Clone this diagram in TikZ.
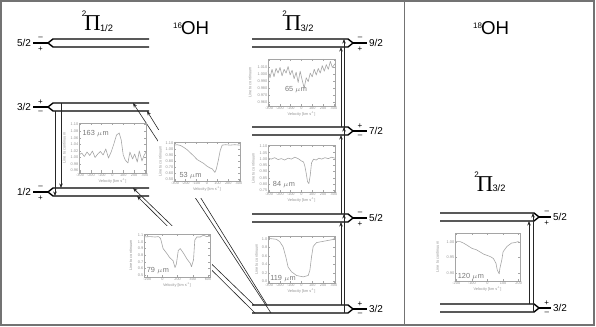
\documentclass[tikz,border=0pt]{standalone}
\usepackage{fontspec}
\setmainfont{Liberation Sans}
\newfontfamily\pifont{Liberation Serif}
\usetikzlibrary{arrows.meta,positioning}
\definecolor{frameGray}{RGB}{115,115,115}
\definecolor{plotGray}{RGB}{165,165,165}
\definecolor{labGray}{RGB}{120,120,120}

\begin{document}
\begin{tikzpicture}[x=0.75pt,y=-0.75pt,>={Stealth[length=3.4pt,width=2.6pt]},
    lev/.style={line width=1.05pt,black},
    ar/.style={->,line width=0.45pt,black!85},
    jlab/.style={font=\fontsize{7.5}{7.5}\selectfont,inner sep=1pt},
    sgn/.style={font=\fontsize{6}{6}\selectfont,inner sep=0pt},
    ttl/.style={font=\pifont\fontsize{17}{17}\selectfont,inner sep=0pt},
    ttlsup/.style={font=\fontsize{6}{6}\selectfont,inner sep=0pt},
    ttlsub/.style={font=\fontsize{7}{7}\selectfont,inner sep=0pt},
    mol/.style={font=\fontsize{14}{14}\selectfont,inner sep=0pt},
    fr/.style={draw=plotGray,line width=0.35pt},
    spec/.style={plotGray,line width=0.45pt,line join=round},
    tk/.style={font=\fontsize{2.9}{2.9}\selectfont,text=labGray!80,inner sep=0.4pt},
    lam/.style={font=\fontsize{5.5}{5.5}\selectfont,text=labGray,inner sep=0pt},
    bgbox/.style={fill=white,draw=none}]
  \useasboundingbox (0,0) rectangle (596,327);
  \draw[frameGray,line width=1.4pt] (1,1) rectangle (594,325);
  \draw[frameGray,line width=1.4pt] (404.5,1) -- (404.5,325);

  % titles
  \node[ttl] (pia) at (92.5,23.5) {Π};
  \node[ttlsup] (piaup) at (84,14) {2};
  \node[ttlsub] (pialo) at (106.5,28) {1/2};
  \node[ttl] (pib) at (293,23.5) {Π};
  \node[ttlsup] (pibup) at (284.5,14) {2};
  \node[ttlsub] (piblo) at (307,28) {3/2};
  \node[ttl] (pic) at (485,184) {Π};
  \node[ttlsup] (picup) at (476.5,174.5) {2};
  \node[ttlsub] (piclo) at (499,188.5) {3/2};
  \node[mol] (oh16) at (195,28.5) {OH};
  \node[ttlsup,anchor=south east] (oh16up) at (oh16.north west) [yshift=-5.5pt,xshift=1.2pt] {16};
  \node[mol] (oh18) at (495,28.5) {OH};
  \node[ttlsup,anchor=south east] (oh18up) at (oh18.north west) [yshift=-5.5pt,xshift=1.2pt] {18};

  % 2Pi1/2 ladder
  \coordinate (a52v) at (48,43);
  \draw[lev] (a52v) -- ++(5,-4) coordinate (a52t) -- ++(96,0);
  \draw[lev] (a52v) -- ++(5,4) coordinate (a52b) -- ++(96,0);
  \draw[lev] (a52v) -- ++(-15,0) node[sgn,midway,above=2.4pt] (sa52t) {\textendash}
    node[sgn,midway,below=2.2pt] (sa52b) {+} node[jlab,left] (ja52) {5/2};
  \coordinate (a32v) at (48,107);
  \draw[lev] (a32v) -- ++(5,-4) coordinate (a32t) -- ++(96,0);
  \draw[lev] (a32v) -- ++(5,4) coordinate (a32b) -- ++(96,0);
  \draw[lev] (a32v) -- ++(-15,0) node[sgn,midway,above=1.6pt] (sa32t) {+}
    node[sgn,midway,below=3pt] (sa32b) {\textendash} node[jlab,left] (ja32) {3/2};
  \coordinate (a12v) at (48,192);
  \draw[lev] (a12v) -- ++(5,-4) coordinate (a12t) -- ++(96,0);
  \draw[lev] (a12v) -- ++(5,4) coordinate (a12b) -- ++(96,0);
  \draw[lev] (a12v) -- ++(-15,0) node[sgn,midway,above=2.4pt] (sa12t) {\textendash}
    node[sgn,midway,below=2.2pt] (sa12b) {+} node[jlab,left] (ja12) {1/2};

  % 2Pi3/2 ladder, 16OH
  \coordinate (c92v) at (353,43);
  \draw[lev] (c92v) -- ++(-5,-4) coordinate (c92t) -- ++(-96,0);
  \draw[lev] (c92v) -- ++(-5,4) coordinate (c92b) -- ++(-96,0);
  \draw[lev] (c92v) -- ++(14,0) node[sgn,midway,above=2.4pt] (sc92t) {\textendash}
    node[sgn,midway,below=2.2pt] (sc92b) {+} node[jlab,right] (jc92) {9/2};
  \coordinate (c72v) at (353,131);
  \draw[lev] (c72v) -- ++(-5,-4) coordinate (c72t) -- ++(-96,0);
  \draw[lev] (c72v) -- ++(-5,4) coordinate (c72b) -- ++(-96,0);
  \draw[lev] (c72v) -- ++(14,0) node[sgn,midway,above=1.6pt] (sc72t) {+}
    node[sgn,midway,below=3pt] (sc72b) {\textendash} node[jlab,right] (jc72) {7/2};
  \coordinate (c52v) at (353,218);
  \draw[lev] (c52v) -- ++(-5,-4) coordinate (c52t) -- ++(-96,0);
  \draw[lev] (c52v) -- ++(-5,4) coordinate (c52b) -- ++(-96,0);
  \draw[lev] (c52v) -- ++(14,0) node[sgn,midway,above=2.4pt] (sc52t) {\textendash}
    node[sgn,midway,below=2.2pt] (sc52b) {+} node[jlab,right] (jc52) {5/2};
  \coordinate (c32v) at (353,309);
  \draw[lev] (c32v) -- ++(-5,-4) coordinate (c32t) -- ++(-96,0);
  \draw[lev] (c32v) -- ++(-5,4) coordinate (c32b) -- ++(-96,0);
  \draw[lev] (c32v) -- ++(14,0) node[sgn,midway,above=1.6pt] (sc32t) {+}
    node[sgn,midway,below=3pt] (sc32b) {\textendash} node[jlab,right] (jc32) {3/2};

  % 2Pi3/2 ladder, 18OH
  \coordinate (e52v) at (539,217);
  \draw[lev] (e52v) -- ++(-5,-4) coordinate (e52t) -- ++(-94,0);
  \draw[lev] (e52v) -- ++(-5,4) coordinate (e52b) -- ++(-94,0);
  \draw[lev] (e52v) -- ++(12,0) node[sgn,pos=.65,above=2.4pt] (se52t) {\textendash}
    node[sgn,pos=.65,below=2.2pt] (se52b) {+} node[jlab,right] (je52) {5/2};
  \coordinate (e32v) at (539,308);
  \draw[lev] (e32v) -- ++(-5,-4) coordinate (e32t) -- ++(-94,0);
  \draw[lev] (e32v) -- ++(-5,4) coordinate (e32b) -- ++(-94,0);
  \draw[lev] (e32v) -- ++(12,0) node[sgn,pos=.65,above=1.6pt] (se32t) {+}
    node[sgn,pos=.65,below=3pt] (se32b) {\textendash} node[jlab,right] (je32) {3/2};

  % transitions inside the ladders
  \coordinate (xa) at (55,0);  \coordinate (xb) at (61,0);
  \coordinate (xc) at (341,0); \coordinate (xd) at (344,0);
  \coordinate (xe) at (529,0); \coordinate (xf) at (533,0);
  \draw[ar] (xb |- a32t) -- (xb |- a12t);
  \draw[ar] (xa |- a32b) -- (xa |- a12b);
  \draw[ar] (xd |- c32b) -- (xd |- c52t); \draw[ar] (xc |- c32t) -- (xc |- c52b);
  \draw[ar] (xd |- c52b) -- (xd |- c72t); \draw[ar] (xc |- c52t) -- (xc |- c72b);
  \draw[ar] (xd |- c72b) -- (xd |- c92t); \draw[ar] (xc |- c72t) -- (xc |- c92b);
  \draw[ar] (xf |- e32b) -- (xf |- e52t); \draw[ar] (xe |- e32t) -- (xe |- e52b);

  % cross-ladder transitions (53 and 79 micron)
  \coordinate (ta) at (133,0); \coordinate (tb) at (147,0); \coordinate (td) at (137,0);
  \coordinate (sa) at (271,0); \coordinate (sb) at (267,0);
  \coordinate (sc) at (254,0); \coordinate (sd) at (255,0);
  \draw[ar] (sa |- c32b) -- (ta |- a32t);
  \draw[ar] (sb |- c32t) -- (tb |- a32b);
  \draw[ar] (sc |- c32t) -- (ta |- a12t);
  \draw[ar] (sd |- c32b) -- (td |- a12b);

  % spectra
  \fill[bgbox] (158,130) rectangle (245,198);
  \fill[bgbox] (126,226) rectangle (212,290);

  % 163 micron
  \begin{scope}[shift={(79,173)},x=50.25pt,y=37.5pt]
    \draw[fr] (0,0) rectangle (1,1);
    \draw[spec] plot coordinates {(0,.36) (.04,.40) (.08,.33) (.12,.42) (.16,.35) (.20,.44)
      (.24,.31) (.28,.38) (.32,.43) (.36,.36) (.40,.48) (.44,.30) (.48,.42) (.52,.58)
      (.56,.76) (.60,.80) (.63,.66) (.66,.36) (.69,.26) (.73,.20) (.76,.42) (.80,.28)
      (.83,.38) (.87,.22) (.90,.44) (.94,.24) (.97,.35) (1,.42)};
    \foreach \f/\t [count=\k] in {.967/1.10,.836/1.08,.704/1.06,.573/1.04,.441/1.02,.310/1.00,.178/0.98,.047/0.96}
      {\draw[fr] (0,\f) -- (.03,\f) (1,\f) -- (.97,\f); \node[tk,anchor=east] (p1y\k) at (0,\f) {\t};}
    \foreach \u/\t [count=\k] in {.016/-300,.177/-200,.339/-100,.5/0,.661/100,.823/200,.984/300}
      {\draw[fr] (\u,0) -- (\u,.05) (\u,1) -- (\u,.95); \node[tk,anchor=north] (p1x\k) at (\u,0) {\t};}
    \node[tk,anchor=north] (p1v) at (.5,0) [yshift=-3.3pt] {Velocity [km s\textsuperscript{-1}]};
    \node[tk,rotate=90] (p1c) at (-.22,.5) {Line to continuum};
    \node[lam,anchor=west] (p1l) at (.05,.78) {163 $\mu$m};
  \end{scope}

  % 53 micron
  \begin{scope}[shift={(174,181)},x=49.5pt,y=29.25pt]
    \draw[fr] (0,0) rectangle (1,1);
    \draw[spec] plot coordinates {(0,.92) (.05,.93) (.10,.91) (.15,.86) (.20,.80) (.25,.72)
      (.30,.64) (.35,.55) (.40,.50) (.45,.45) (.50,.38) (.55,.33) (.58,.31) (.62,.22)
      (.64,.30) (.67,.52) (.70,.78) (.73,.92) (.78,.93) (.85,.92) (.92,.93) (1,.92)};
    \foreach \f/\t [count=\k] in {.97/1.10,.815/1.00,.66/0.90,.505/0.80,.35/0.70,.195/0.60,.04/0.50}
      {\draw[fr] (0,\f) -- (.03,\f) (1,\f) -- (.97,\f); \node[tk,anchor=east] (p2y\k) at (0,\f) {\t};}
    \foreach \u/\t [count=\k] in {.016/-300,.177/-200,.339/-100,.5/0,.661/100,.823/200,.984/300}
      {\draw[fr] (\u,0) -- (\u,.06) (\u,1) -- (\u,.94); \node[tk,anchor=north] (p2x\k) at (\u,0) {\t};}
    \node[tk,anchor=north] (p2v) at (.5,0) [yshift=-3.3pt] {Velocity [km s\textsuperscript{-1}]};
    \node[tk,rotate=90] (p2c) at (-.21,.5) {Line to continuum};
    \node[lam,anchor=west] (p2l) at (.08,.14) {53 $\mu$m};
  \end{scope}

  % 79 micron
  \begin{scope}[shift={(144,277)},x=49.5pt,y=32.25pt]
    \draw[fr] (0,0) rectangle (1,1);
    \draw[spec] plot coordinates {(0,.93) (.09,.94) (.17,.93) (.22,.94) (.25,.90) (.29,.66)
      (.34,.56) (.39,.45) (.44,.38) (.47,.22) (.49,.30) (.52,.62) (.55,.66) (.60,.55)
      (.65,.42) (.70,.32) (.72,.24) (.75,.40) (.77,.86) (.80,.93) (.85,.93) (.90,.97)
      (.95,.94) (1,.95)};
    \foreach \f/\t [count=\k] in {.97/1.1,.815/1.0,.66/0.9,.505/0.8,.35/0.7,.195/0.6,.04/0.5}
      {\draw[fr] (0,\f) -- (.03,\f) (1,\f) -- (.97,\f); \node[tk,anchor=east] (p3y\k) at (0,\f) {\t};}
    \foreach \u/\t [count=\k] in {.05/-200,.28/0,.51/200,.74/400,.97/600}
      {\draw[fr] (\u,0) -- (\u,.05) (\u,1) -- (\u,.95); \node[tk,anchor=north] (p3x\k) at (\u,0) {\t};}
    \node[tk,anchor=north] (p3v) at (.5,0) [yshift=-3.3pt] {Velocity [km s\textsuperscript{-1}]};
    \node[tk,rotate=90] (p3c) at (-.2,.5) {Line to continuum};
    \node[lam,anchor=west] (p3l) at (.04,.16) {79 $\mu$m};
  \end{scope}

  % 65 micron
  \begin{scope}[shift={(268,106)},x=50.25pt,y=35.25pt]
    \draw[fr] (0,0) rectangle (1,1);
    \draw[spec] plot coordinates {(0,.75) (.03,.60) (.06,.78) (.09,.62) (.12,.80) (.15,.70)
      (.18,.82) (.21,.64) (.24,.78) (.27,.70) (.30,.84) (.33,.66) (.36,.76) (.39,.58)
      (.42,.72) (.45,.50) (.48,.74) (.51,.55) (.54,.38) (.57,.60) (.60,.52) (.63,.70)
      (.66,.62) (.69,.78) (.72,.66) (.75,.80) (.78,.70) (.81,.86) (.84,.74) (.87,.88)
      (.90,.78) (.93,.95) (.96,.82) (1,.90)};
    \foreach \f/\t [count=\k] in {.83/1.010,.68/1.000,.53/0.990,.38/0.980,.235/0.970,.085/0.960}
      {\draw[fr] (0,\f) -- (.03,\f) (1,\f) -- (.97,\f); \node[tk,anchor=east] (p4y\k) at (0,\f) {\t};}
    \foreach \u/\t [count=\k] in {.016/-300,.177/-200,.339/-100,.5/0,.661/100,.823/200,.984/300}
      {\draw[fr] (\u,0) -- (\u,.05) (\u,1) -- (\u,.95); \node[tk,anchor=north] (p4x\k) at (\u,0) {\t};}
    \node[tk,anchor=north] (p4v) at (.5,0) [yshift=-3.3pt] {Velocity [km s\textsuperscript{-1}]};
    \node[tk,rotate=90] (p4c) at (-.27,.5) {Line to continuum};
    \node[lam,anchor=west] (p4l) at (.25,.34) {65 $\mu$m};
  \end{scope}

  % 84 micron
  \begin{scope}[shift={(268,192)},x=50.25pt,y=35.25pt]
    \draw[fr] (0,0) rectangle (1,1);
    \draw[spec] plot coordinates {(0,.72) (.05,.70) (.10,.73) (.15,.69) (.20,.71) (.25,.68)
      (.30,.72) (.35,.70) (.40,.74) (.45,.71) (.50,.66) (.53,.64) (.55,.55) (.57,.40)
      (.59,.22) (.61,.18) (.63,.35) (.65,.62) (.68,.70) (.72,.68) (.76,.72) (.80,.70)
      (.85,.73) (.90,.71) (.95,.74) (1,.72)};
    \foreach \f/\t [count=\k] in {.97/1.10,.836/1.05,.702/1.00,.568/0.95,.434/0.90,.30/0.85,.166/0.80,.032/0.75}
      {\draw[fr] (0,\f) -- (.03,\f) (1,\f) -- (.97,\f); \node[tk,anchor=east] (p5y\k) at (0,\f) {\t};}
    \foreach \u/\t [count=\k] in {.016/-300,.177/-200,.339/-100,.5/0,.661/100,.823/200,.984/300}
      {\draw[fr] (\u,0) -- (\u,.05) (\u,1) -- (\u,.95); \node[tk,anchor=north] (p5x\k) at (\u,0) {\t};}
    \node[tk,anchor=north] (p5v) at (.5,0) [yshift=-3.3pt] {Velocity [km s\textsuperscript{-1}]};
    \node[tk,rotate=90] (p5c) at (-.22,.5) {Line to continuum};
    \node[lam,anchor=west] (p5l) at (.07,.16) {84 $\mu$m};
  \end{scope}

  % 119 micron
  \begin{scope}[shift={(268,283)},x=50.25pt,y=35.25pt]
    \draw[fr] (0,0) rectangle (1,1);
    \draw[spec] plot coordinates {(0,.95) (.125,.93) (.175,.88) (.225,.77) (.265,.56) (.30,.34)
      (.35,.24) (.425,.16) (.525,.13) (.60,.16) (.625,.27) (.65,.56) (.675,.78) (.725,.86)
      (.80,.88) (.875,.90) (.95,.92) (1,.95)};
    \foreach \f/\t [count=\k] in {.93/1.0,.752/0.8,.574/0.6,.396/0.4,.218/0.2,.04/0.0}
      {\draw[fr] (0,\f) -- (.03,\f) (1,\f) -- (.97,\f); \node[tk,anchor=east] (p6y\k) at (0,\f) {\t};}
    \foreach \u/\t [count=\k] in {.016/-300,.177/-200,.339/-100,.5/0,.661/100,.823/200,.984/300}
      {\draw[fr] (\u,0) -- (\u,.05) (\u,1) -- (\u,.95); \node[tk,anchor=north] (p6x\k) at (\u,0) {\t};}
    \node[tk,anchor=north] (p6v) at (.5,0) [yshift=-3.3pt] {Velocity [km s\textsuperscript{-1}]};
    \node[tk,rotate=90] (p6c) at (-.17,.5) {Line to continuum};
    \node[lam,anchor=west] (p6l) at (.03,.1) {119 $\mu$m};
  \end{scope}

  % 120 micron, 18OH
  \begin{scope}[shift={(455,281)},x=48.75pt,y=36pt]
    \draw[fr] (0,0) rectangle (1,1);
    \draw[spec] plot coordinates {(0,.82) (.08,.82) (.13,.79) (.18,.75) (.26,.68) (.33,.65)
      (.44,.56) (.54,.51) (.59,.47) (.63,.37) (.65,.23) (.68,.15) (.69,.26) (.72,.44)
      (.74,.61) (.80,.72) (.87,.79) (.92,.80) (.97,.82) (1,.80)};
    \foreach \f/\t [count=\k] in {.81/1.00,.49/0.95,.16/0.90}
      {\draw[fr] (0,\f) -- (.03,\f) (1,\f) -- (.97,\f); \node[tk,anchor=east] (p7y\k) at (0,\f) {\t};}
    \foreach \u/\t [count=\k] in {.02/-200,.26/-100,.5/0,.74/100,.98/200}
      {\draw[fr] (\u,0) -- (\u,.05) (\u,1) -- (\u,.95); \node[tk,anchor=north] (p7x\k) at (\u,0) {\t};}
    \node[tk,anchor=north] (p7v) at (.5,0) [yshift=-3.3pt] {Velocity [km s\textsuperscript{-1}]};
    \node[tk,rotate=90] (p7c) at (-.27,.5) {Line to continuum};
    \node[lam,anchor=west] (p7l) at (.04,.1) {120 $\mu$m};
  \end{scope}
\end{tikzpicture}
\end{document}
